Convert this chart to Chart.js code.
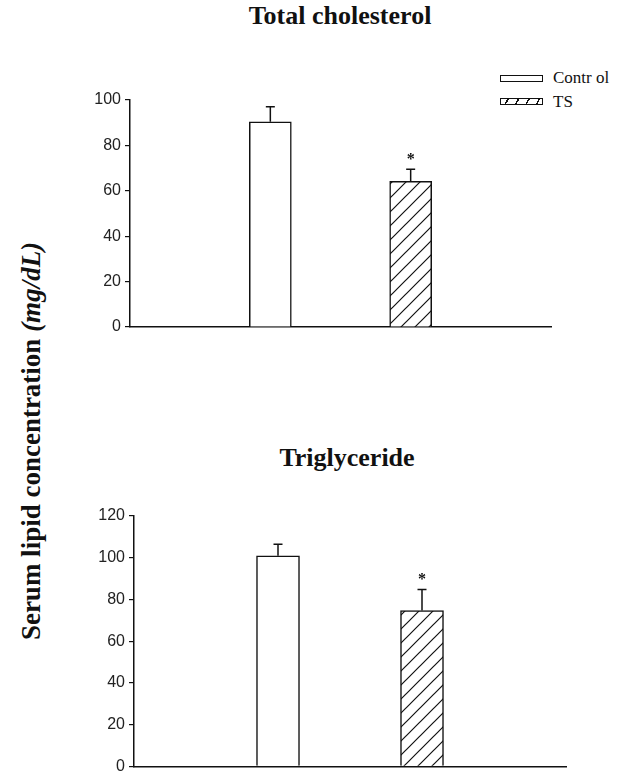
<!DOCTYPE html>
<html>
<head>
<meta charset="utf-8">
<script src="https://cdn.jsdelivr.net/npm/chart.js@4.4.1/dist/chart.umd.min.js"></script>
<style>
  html, body { margin: 0; padding: 0; background: #fff; }
  body { width: 623px; height: 780px; position: relative; overflow: hidden; }
  .box { position: absolute; left: 0; width: 623px; }
  .title { position: absolute; font-family: "Liberation Serif", "Times New Roman", serif; font-weight: bold; font-size: 26px; color: #111; white-space: nowrap; transform: translate(-50%, -50%); }
  .ylabel { position: absolute; left: 31px; top: 441px; transform: translate(-50%, -50%) rotate(-90deg); font-family: "Liberation Serif", "Times New Roman", serif; font-weight: bold; font-size: 27px; color: #111; white-space: nowrap; }
  .leg { position: absolute; font-family: "Liberation Serif", "Times New Roman", serif; font-size: 17px; color: #111; white-space: nowrap; }
  .lbox { position: absolute; box-sizing: border-box; border: 1.5px solid #111; background: #fff; }
</style>
</head>
<body>
<div class="title" style="left:340px; top:16px;">Total cholesterol</div>
<div class="title" style="left:347px; top:458px;">Triglyceride</div>
<div class="ylabel">Serum lipid concentration <i>(mg/dL)</i></div>

<div class="lbox" style="left:500px; top:75px; width:43px; height:7px;"></div>
<div class="leg" style="left:553px; top:68px;">Contr ol</div>
<div class="lbox" style="left:500px; top:98px; width:43px; height:7px; background: repeating-linear-gradient(-60deg, #fff 0 4px, #111 4px 5.5px, #fff 5.5px 9px);"></div>
<div class="leg" style="left:553px; top:92px;">TS</div>

<div class="box" style="top:0; height:350px;"><canvas id="c1"></canvas></div>
<div class="box" style="top:400px; height:380px;"><canvas id="c2"></canvas></div>

<script>
// ---- data ----
const categories = ['Control', 'TS'];
const cholMean = [90.4, 64.2];
const cholErr  = [6.6, 5.3];
const tgMean   = [100.9, 74.7];
const tgErr    = [5.6, 10.1];
const signif   = ['', '*'];
const cholTicks = [0, 20, 40, 60, 80, 100];
const tgTicks   = [0, 20, 40, 60, 80, 100, 120];

function hatchPattern() {
  const p = document.createElement('canvas');
  const s = 14;
  p.width = s; p.height = s;
  const g = p.getContext('2d');
  g.fillStyle = '#fff'; g.fillRect(0, 0, s, s);
  g.strokeStyle = '#111'; g.lineWidth = 1.2;
  g.beginPath();
  g.moveTo(-2, s + 2); g.lineTo(s + 2, -2);
  g.moveTo(-2, 2); g.lineTo(2, -2);
  g.moveTo(s - 2, s + 2); g.lineTo(s + 2, s - 2);
  g.stroke();
  return p;
}

const errorBarPlugin = {
  id: 'errbars',
  afterDatasetsDraw(chart, args, opts) {
    const ctx = chart.ctx;
    const ys = chart.scales.y;
    chart.data.datasets.forEach((ds, di) => {
      const meta = chart.getDatasetMeta(di);
      meta.data.forEach((el, i) => {
        const v = ds.data[i].y;
        const e = ds.err[i];
        const x = el.x;
        const y0 = ys.getPixelForValue(v);
        const y1 = ys.getPixelForValue(v + e);
        ctx.save();
        ctx.strokeStyle = '#111';
        ctx.lineWidth = 1.5;
        ctx.beginPath();
        ctx.moveTo(x, y0); ctx.lineTo(x, y1);
        ctx.moveTo(x - 4.5, y1); ctx.lineTo(x + 4.5, y1);
        ctx.stroke();
        if (ds.sig[i]) {
          ctx.fillStyle = '#111';
          ctx.font = 'bold 16px "Liberation Serif", serif';
          ctx.textAlign = 'center';
          ctx.textBaseline = 'middle';
          ctx.fillText(ds.sig[i], x, y1 - opts.starGap);
        }
        ctx.restore();
      });
    });
  }
};

function makeChart(id, means, errs, ticks, geom) {
  const pat = hatchPattern();
  const ctx = document.getElementById(id).getContext('2d');
  const fills = ['#ffffff', ctx.createPattern(pat, 'repeat')];
  const datasets = categories.map((c, i) => ({
    label: c,
    data: [{ x: i + 1, y: means[i] }],
    err: [errs[i]],
    sig: [signif[i]],
    backgroundColor: fills[i],
    borderColor: '#111',
    borderWidth: 1.5,
    borderSkipped: 'bottom',
    barThickness: geom.barW,
    grouped: false
  }));
  const yW = 60;
  return new Chart(ctx, {
    type: 'bar',
    data: { datasets },
    options: {
      responsive: true,
      maintainAspectRatio: false,
      animation: false,
      layout: { padding: { left: geom.axisX - yW, right: 623 - geom.axisRight, top: geom.top, bottom: geom.bottom } },
      plugins: { legend: { display: false }, tooltip: { enabled: false }, errbars: { starGap: geom.starGap } },
      scales: {
        x: {
          type: 'linear', min: 0, max: 3, offset: false,
          ticks: { display: false },
          grid: { display: false },
          border: { display: true, color: '#111', width: 1.5 },
          afterFit(s) { s.height = 0; }
        },
        y: {
          min: 0, max: ticks[ticks.length - 1],
          afterBuildTicks(s) { s.ticks = ticks.map(v => ({ value: v })); },
          ticks: { color: '#222', padding: 4, font: { family: '"Liberation Sans", Arial, sans-serif', size: 16 } },
          grid: { display: true, drawOnChartArea: false, drawTicks: true, tickLength: 5, color: '#111', lineWidth: 1.2 },
          border: { display: true, color: '#111', width: 1.5 },
          afterFit(s) { s.width = yW; }
        }
      }
    },
    plugins: [errorBarPlugin]
  });
}

makeChart('c1', cholMean, cholErr, cholTicks, { axisX: 130, axisRight: 551, top: 100, bottom: 350 - 327, barW: 42, starGap: 9 });
makeChart('c2', tgMean, tgErr, tgTicks, { axisX: 134, axisRight: 566, top: 116, bottom: 380 - 376, barW: 43, starGap: 10 });
</script>
</body>
</html>
